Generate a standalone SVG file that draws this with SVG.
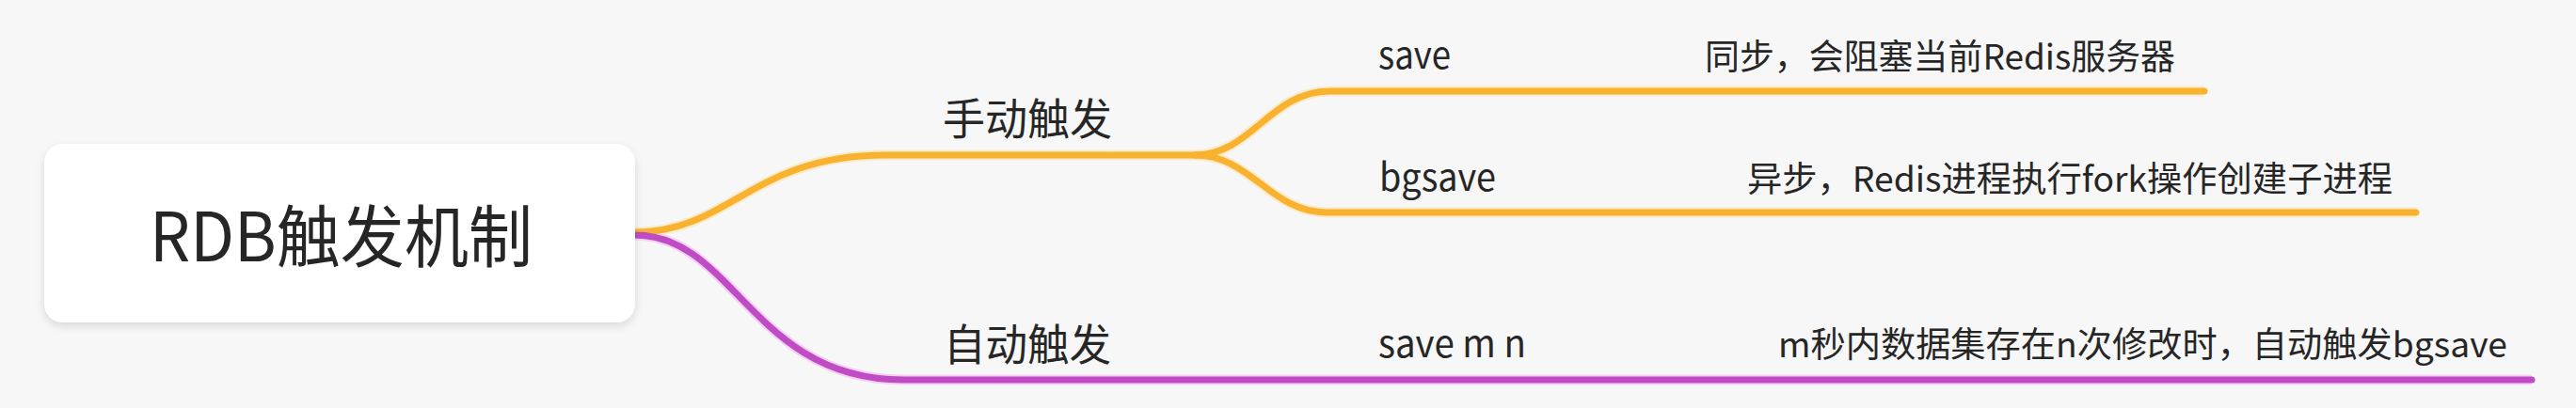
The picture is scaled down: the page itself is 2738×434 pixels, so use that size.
<svg xmlns="http://www.w3.org/2000/svg" width="2738" height="434" viewBox="0 0 2738 434">
<defs>
<filter id="shadow" x="-10%" y="-20%" width="120%" height="150%">
<feDropShadow dx="0" dy="4" stdDeviation="5" flood-color="#000" flood-opacity="0.12"/>
</filter>
<style>
text{font-family:"Noto Sans CJK SC","Noto Sans",sans-serif;fill:#262626}
.t1{font-size:72px}
.t2{font-size:46px}
.t3{font-size:40px}
.t4{font-size:37px}
.or{fill:none;stroke:#F8B22F;stroke-width:7;stroke-linecap:round}
.pu{fill:none;stroke:#C04CC5;stroke-width:7;stroke-linecap:round}
.orh{fill:none;stroke:#FCE6B4;stroke-width:11;opacity:0.7}
.puh{fill:none;stroke:#F2B6F0;stroke-width:11;opacity:0.6}
</style>
</defs>
<rect width="2738" height="434" fill="#F7F7F7"/>
<g id="connectors">
<path class="orh" d="M675,247 C775,247 800,165 940,165 L1270,165"/>
<path class="orh" d="M1270,165 C1330,165 1350,97 1413,97 L2343,97"/>
<path class="orh" d="M1270,165 C1330,165 1350,226 1410,226 L2568,226"/>
<path class="puh" d="M675,250 C780,250 800,404 960,404 L2691,404"/>
<path class="or" d="M675,247 C775,247 800,165 940,165 L1270,165"/>
<path class="or" d="M1270,165 C1330,165 1350,97 1413,97 L2343,97"/>
<path class="or" d="M1270,165 C1330,165 1350,226 1410,226 L2568,226"/>
<path class="pu" d="M675,250 C780,250 800,404 960,404 L2691,404"/>
</g>
<g id="root">
<rect x="47" y="153" width="628" height="190" rx="20" fill="#FFFFFF" filter="url(#shadow)"/>
<text class="t1" x="159" y="278" textLength="407" lengthAdjust="spacingAndGlyphs">RDB触发机制</text>
</g>
<g id="manual">
<text class="t2" x="1002" y="143" textLength="180" lengthAdjust="spacingAndGlyphs">手动触发</text>
</g>
<g id="save">
<text class="t3" x="1465" y="73" textLength="77" lengthAdjust="spacingAndGlyphs">save</text>
</g>
<g id="save-desc">
<text class="t4" x="1812" y="74" textLength="500" lengthAdjust="spacingAndGlyphs">同步，会阻塞当前Redis服务器</text>
</g>
<g id="bgsave">
<text class="t3" x="1466" y="203" textLength="124" lengthAdjust="spacingAndGlyphs">bgsave</text>
</g>
<g id="bgsave-desc">
<text class="t4" x="1857" y="204" textLength="686" lengthAdjust="spacingAndGlyphs">异步，Redis进程执行fork操作创建子进程</text>
</g>
<g id="auto">
<text class="t2" x="1003" y="383" textLength="178" lengthAdjust="spacingAndGlyphs">自动触发</text>
</g>
<g id="savemn">
<text class="t3" x="1465" y="380" textLength="157" lengthAdjust="spacingAndGlyphs">save m n</text>
</g>
<g id="savemn-desc">
<text class="t4" x="1890" y="380" textLength="775" lengthAdjust="spacingAndGlyphs">m秒内数据集存在n次修改时，自动触发bgsave</text>
</g>
</svg>
